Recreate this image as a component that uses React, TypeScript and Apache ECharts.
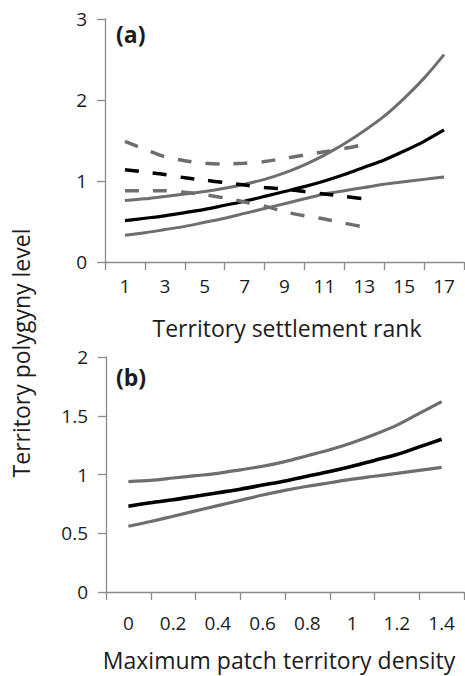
import React, { useEffect, useRef } from "react";
import * as echarts from "echarts";

// ---- Panel (a): territory settlement rank ----
const rankX = [1, 2, 3, 4, 5, 6, 7, 8, 9, 10, 11, 12, 13, 14, 15, 16, 17];
const rankDashX = [1, 2, 3, 4, 5, 6, 7, 8, 9, 10, 11, 12, 13];
const upperSolidA = [0.76, 0.78, 0.81, 0.84, 0.87, 0.91, 0.96, 1.02, 1.1, 1.2, 1.32, 1.46, 1.62, 1.8, 2.02, 2.27, 2.56];
const fitSolidA = [0.51, 0.54, 0.57, 0.61, 0.65, 0.7, 0.75, 0.81, 0.87, 0.93, 1.0, 1.08, 1.17, 1.26, 1.37, 1.49, 1.63];
const lowerSolidA = [0.33, 0.36, 0.4, 0.44, 0.49, 0.54, 0.6, 0.66, 0.72, 0.78, 0.84, 0.88, 0.92, 0.96, 0.99, 1.02, 1.05];
const upperDashA = [1.49, 1.39, 1.3, 1.25, 1.22, 1.21, 1.22, 1.24, 1.28, 1.32, 1.36, 1.4, 1.45];
const fitDashA = [1.14, 1.11, 1.08, 1.04, 1.01, 0.98, 0.95, 0.92, 0.9, 0.87, 0.84, 0.81, 0.78];
const lowerDashA = [0.88, 0.88, 0.88, 0.86, 0.83, 0.79, 0.74, 0.69, 0.62, 0.57, 0.53, 0.48, 0.43];
const rankTickLabels = ["1", "3", "5", "7", "9", "11", "13", "15", "17"];

// ---- Panel (b): maximum patch territory density ----
const densityX = [0, 0.1, 0.2, 0.3, 0.4, 0.5, 0.6, 0.7, 0.8, 0.9, 1.0, 1.1, 1.2, 1.3, 1.4];
const upperB = [0.94, 0.95, 0.97, 0.99, 1.01, 1.04, 1.07, 1.11, 1.16, 1.21, 1.27, 1.34, 1.42, 1.52, 1.62];
const fitB = [0.73, 0.76, 0.785, 0.815, 0.845, 0.875, 0.91, 0.945, 0.985, 1.025, 1.07, 1.12, 1.17, 1.235, 1.3];
const lowerB = [0.56, 0.6, 0.645, 0.69, 0.735, 0.78, 0.825, 0.865, 0.9, 0.93, 0.96, 0.985, 1.01, 1.035, 1.06];
const densityTickLabels = ["0", "0.2", "0.4", "0.6", "0.8", "1", "1.2", "1.4"];

const FONT = "'Open Sans', Lato, sans-serif";
const TEXT = "#1c1c1c";
const AXIS = "#8a8a8a";
const GRAY = "#6e6e6e";
const BLACK = "#000000";

const pair = (xs: number[], ys: number[]) => xs.map((x, i) => [x, ys[i]]);

export default function App() {
  const ref = useRef<HTMLDivElement>(null);
  useEffect(() => {
    if (!ref.current) return;
    const chart = echarts.init(ref.current, undefined, { renderer: "svg" });

    const tickAxis = (gridIndex: number, max: number) => ({
      type: "value",
      gridIndex,
      position: "bottom",
      min: 0,
      max,
      interval: 1,
      axisLine: { show: true, onZero: false, lineStyle: { color: AXIS, width: 1.3 } },
      axisTick: { show: true, length: 8, lineStyle: { color: AXIS, width: 1.3 } },
      axisLabel: { show: false },
      splitLine: { show: false },
    });

    const labelAxis = (gridIndex: number, min: number, max: number, interval: number, margin: number, fmt: (v: number) => string) => ({
      type: "value",
      gridIndex,
      position: "bottom",
      min,
      max,
      interval,
      axisLine: { show: false, onZero: false },
      axisTick: { show: false },
      splitLine: { show: false },
      axisLabel: { show: true, margin, color: TEXT, fontSize: 19, fontFamily: FONT, formatter: fmt, showMinLabel: true, showMaxLabel: true },
    });

    const yAxis = (gridIndex: number, max: number, interval: number) => ({
      type: "value",
      gridIndex,
      min: 0,
      max,
      interval,
      axisLine: { show: true, onZero: false, lineStyle: { color: AXIS, width: 1.3 } },
      axisTick: { show: true, length: 8, lineStyle: { color: AXIS, width: 1.3 } },
      splitLine: { show: false },
      axisLabel: { margin: 18, color: TEXT, fontSize: 19, fontFamily: FONT },
    });

    const line = (xIdx: number, yIdx: number, data: number[][], color: string, width: number, dashed: boolean) => ({
      type: "line",
      xAxisIndex: xIdx,
      yAxisIndex: yIdx,
      data,
      smooth: 0.3,
      symbol: "none",
      showSymbol: false,
      silent: true,
      lineStyle: { color, width, type: dashed ? [14, 14] : "solid", cap: "butt" },
    });

    chart.setOption({
      animation: false,
      backgroundColor: "#ffffff",
      grid: [
        { left: 105, top: 19, width: 359, height: 243, outerBoundsMode: "none", containLabel: false },
        { left: 106, top: 357, width: 358, height: 235, outerBoundsMode: "none", containLabel: false },
      ],
      xAxis: [
        tickAxis(0, 9),
        labelAxis(0, 0, 18, 1, 14, (v: number) => (rankTickLabels.includes(String(v)) ? String(v) : "")),
        tickAxis(1, 8),
        labelAxis(1, -0.1, 1.5, 0.1, 21, (v: number) => {
          const s = String(Math.round(v * 10) / 10);
          return densityTickLabels.includes(s) ? s : "";
        }),
      ],
      yAxis: [yAxis(0, 3, 1), yAxis(1, 2, 0.5)],
      series: [
        line(1, 0, pair(rankX, upperSolidA), GRAY, 3, false),
        line(1, 0, pair(rankX, lowerSolidA), GRAY, 3, false),
        line(1, 0, pair(rankX, fitSolidA), BLACK, 3.2, false),
        line(1, 0, pair(rankDashX, upperDashA), GRAY, 3.5, true),
        line(1, 0, pair(rankDashX, lowerDashA), GRAY, 3.5, true),
        line(1, 0, pair(rankDashX, fitDashA), BLACK, 3.5, true),
        line(3, 1, pair(densityX, upperB), GRAY, 3.2, false),
        line(3, 1, pair(densityX, lowerB), GRAY, 3.2, false),
        line(3, 1, pair(densityX, fitB), BLACK, 3.6, false),
      ],
      graphic: [
        { type: "text", x: 116, y: 33.5, style: { text: "(a)", font: `bold 23px ${FONT}`, fill: TEXT, verticalAlign: "middle", align: "left" } },
        { type: "text", x: 116, y: 376.5, style: { text: "(b)", font: `bold 23px ${FONT}`, fill: TEXT, verticalAlign: "middle", align: "left" } },
        { type: "text", x: 287, y: 328, style: { text: "Territory settlement rank", font: `23px ${FONT}`, fill: TEXT, verticalAlign: "middle", align: "center" } },
        { type: "text", x: 279, y: 660, style: { text: "Maximum patch territory density", font: `23px ${FONT}`, fill: TEXT, verticalAlign: "middle", align: "center" } },
        { type: "text", x: 21, y: 353, rotation: Math.PI / 2, style: { text: "Territory polygyny level", font: `23px ${FONT}`, fill: TEXT, verticalAlign: "middle", align: "center" } },
      ],
    });
    return () => chart.dispose();
  }, []);
  return <div ref={ref} style={{ position: "absolute", left: 0, top: 0, width: 465, height: 676 }} />;
}
